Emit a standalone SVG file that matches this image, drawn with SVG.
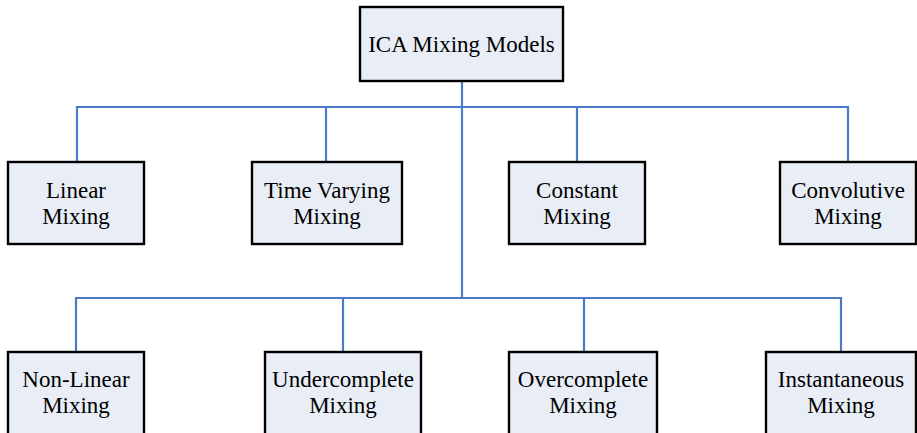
<svg xmlns="http://www.w3.org/2000/svg" width="917" height="433" viewBox="0 0 917 433">
  <style>
    .box { fill: #E8EDF6; stroke: #000000; stroke-width: 2.4; }
    .lbl { font-family: "Liberation Serif", "Times New Roman", serif; font-size: 23px; fill: #000000; text-anchor: middle; }
    .wire { fill: none; stroke: #4A7BC8; stroke-width: 2.2; }
  </style>
  <rect width="917" height="433" fill="#FFFFFF"/>

  <!-- tree connectors -->
  <g id="connectors">
    <path class="wire" d="M462,81 V298"/>
    <path class="wire" d="M77,162 V107 H848 V162"/>
    <path class="wire" d="M326,107 V162"/>
    <path class="wire" d="M577,107 V162"/>
    <path class="wire" d="M76,352 V298 H841 V352"/>
    <path class="wire" d="M343,298 V352"/>
    <path class="wire" d="M584,298 V352"/>
  </g>

  <g id="root">
    <rect class="box" x="360" y="7" width="203" height="74"/>
    <text class="lbl" x="461.5" y="52">ICA Mixing Models</text>
  </g>

  <g id="linear">
    <rect class="box" x="8" y="162" width="136" height="82"/>
    <text class="lbl" x="76" y="198">Linear</text>
    <text class="lbl" x="76" y="224">Mixing</text>
  </g>
  <g id="time-varying">
    <rect class="box" x="252" y="162" width="150" height="82"/>
    <text class="lbl" x="327" y="198">Time Varying</text>
    <text class="lbl" x="327" y="224">Mixing</text>
  </g>
  <g id="constant">
    <rect class="box" x="509" y="162" width="136" height="82"/>
    <text class="lbl" x="577" y="198">Constant</text>
    <text class="lbl" x="577" y="224">Mixing</text>
  </g>
  <g id="convolutive">
    <rect class="box" x="780" y="162" width="136" height="82"/>
    <text class="lbl" x="848" y="198">Convolutive</text>
    <text class="lbl" x="848" y="224">Mixing</text>
  </g>

  <g id="non-linear">
    <rect class="box" x="8" y="352" width="136" height="90"/>
    <text class="lbl" x="76" y="387">Non-Linear</text>
    <text class="lbl" x="76" y="413">Mixing</text>
  </g>
  <g id="undercomplete">
    <rect class="box" x="265" y="352" width="156" height="90"/>
    <text class="lbl" x="343" y="387">Undercomplete</text>
    <text class="lbl" x="343" y="413">Mixing</text>
  </g>
  <g id="overcomplete">
    <rect class="box" x="509" y="352" width="148" height="90"/>
    <text class="lbl" x="583" y="387">Overcomplete</text>
    <text class="lbl" x="583" y="413">Mixing</text>
  </g>
  <g id="instantaneous">
    <rect class="box" x="766" y="352" width="150" height="90"/>
    <text class="lbl" x="841" y="387">Instantaneous</text>
    <text class="lbl" x="841" y="413">Mixing</text>
  </g>
</svg>
